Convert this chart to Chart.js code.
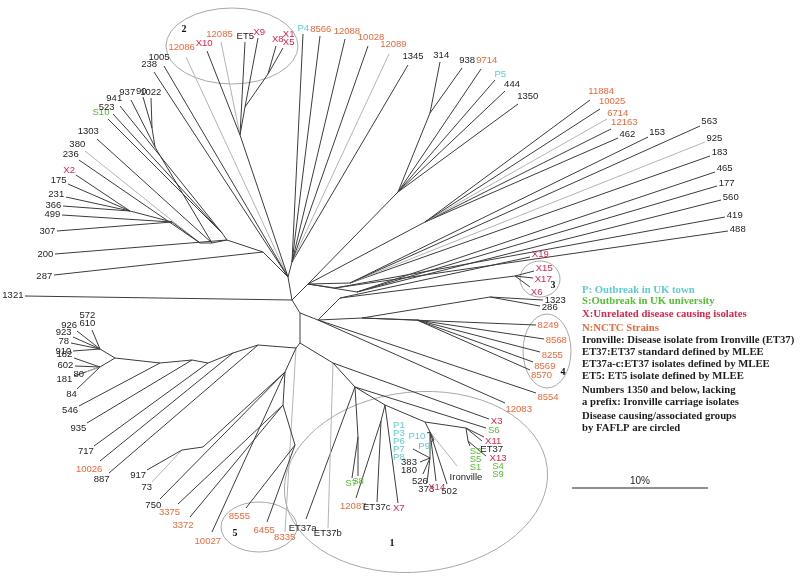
<!DOCTYPE html>
<html>
<head>
<meta charset="utf-8">
<script src="https://cdn.jsdelivr.net/npm/chart.js@4.4.1/dist/chart.umd.min.js"></script>
<style>
  html, body { margin: 0; padding: 0; background: #fff; }
  #wrap { width: 800px; height: 580px; }
</style>
</head>
<body>
<div id="wrap"><canvas id="tree"></canvas></div>
<script>
/* internal nodes of the FAFLP tree (tree units, y grows downwards) */
var nodeName   = ['C1','C2','T','R0','C3','C4','RL','ULa','ULb','ULc','ULd','ULe','ULf','ULh','ULi','ULi2','G2a','G2b','G2c','R1','R1b','R2','R3','R4','R5','Rx','Rx3','Ry','Rz','R4g','K1','K2','S78','K3','K3b','K4','Kp','Kp2','Kq','K5','K6','Lc1','Lc2','Lc3','Lc4','Lc5','Lc6','Lc7','Lc8','LL0','LL1','L9','L9b','LL2','LL3'];
var nodeX      = [292,288,292,308,300,300,318,130,172,200,212,227,263,222,155,152,240,245,268,398,430,425,350,357,335,340,515,490,362,417,333,355,358,385,381,425,430,434,430,466,468,100,100,115,160,192,208,233,258,296,285,182,203,283,295];
var nodeY      = [300,277,262,284,313,343,320,211,222,243,243,240,252,233,147,128,135,107,74,192,113,222,283,292,288,298,276,297,318,320,363,387,437,405,421,422,432,440,458,428,441,349,367,358,363,360,363,353,345,348,372,450,447,405,445];
var nodeParent = [null,'C1','C2','C1','C1','C3','C3','ULb','ULc','ULd','ULe','ULf','C2','ULe','ULd','ULi','C2','G2a','G2b','R0','R1','R0','R0','R0','R0','RL','Rx','Rz','RL','Rz','C4','K1','K2','K2','K3','K3','K4','Kp','Kp','K4','K5','Lc3','Lc3','Lc4','Lc5','Lc6','Lc7','Lc8','LL0','C4','LL0','L9b','LL1','LL1','LL2'];

/* isolates (leaf tips); "a|b" = identical isolates sharing one tip */
var leafLabel  = ['175','231','366','X2','499','307','236','380','1303','200','287','S10','523','941','937','90','1022','238','1005','12086','1321',
                  'X10','12085','ET5','X9','X8','X1|X5',
                  'P4','8566','12088','10028','12089','1345',
                  '314','938','9714','P5','444','1350','11884','10025','6714','12163','462','153','563','925','183','465','177','560','419','488',
                  'X19','X15','X17','X6','1323','286','8249','8568','8255','8569','8570','8554','12083',
                  'X3','S6','X11','ET37','S3|S5|S1','X13|S4|S9','ET37b','ET37a','S7','S8','X7','12087','ET37c',
                  'P1|P3|P6|P7|P8','383|180','526','373','P10','P9','Ironville','502','X14',
                  '572|610','926','923','78','910','182','602','80','181','84','546','935','717','10026','887','917','73','750','3375','3372','10027','8555','6455','8335'];
var leafX      = [68,66,63,76,62,57,79,85,97,55,54,108,113,120,131,143,151,154,164,186,25,
                  207,221,245,258,276,283,
                  303,320,345,368,389,408,
                  440,462,481,495,505,518,590,600,607,611,618,648,700,705,710,715,717,721,725,728,
                  530,534,533,530,543,540,536,544,540,533,530,536,505,
                  489,486,484,482,470,486,328,306,352,358,398,356,377,
                  413,420,423,427,427,431,457,447,436,
                  92,77,73,71,73,74,75,86,74,77,79,87,94,100,109,147,152,160,178,190,212,246,267,285];
var leafY      = [184,197,206,175,215,231,160,151,139,254,275,119,114,106,100,97,98,72,66,57,296,
                  51,42,42,38,46,48,
                  34,36,39,46,54,65,
                  62,68,69,80,91,104,100,109,119,129,138,137,126,142,156,172,186,200,217,231,
                  257,271,278,287,300,306,325,339,352,362,370,393,403,
                  419,428,437,441,446,456,528,519,478,476,503,498,502,
                  449,462,474,483,433,442,466,484,481,
                  330,331,337,343,351,358,366,372,376,389,406,423,446,461,473,470,482,499,504,517,532,508,522,532];
var leafParent = ['ULa','ULa','ULa','ULa','ULb','ULb','ULc','ULc','ULd','ULe','ULf','ULh','ULh','ULh','ULi','ULi2','ULi2','C2','C2','C2','C1',
                  'G2a','G2a','G2a','G2b','G2c','G2c',
                  'T','T','T','T','T','T',
                  'R1b','R1b','R1','R1','R1','R1','R2','R2','R2','R2','R2','R3','R3','R3','R3','R4','R4','R4','R5','R5',
                  'Rx','Rx3','Rx3','Rx3','Ry','Ry','Rz','R4g','R4g','R4g','R4g','RL','RL',
                  'K1','K2','K5','K5','K6','K6','K1','K2','S78','S78','K3','K3b','K3b',
                  'Kq','Kq','Kq','Kq','Kp','Kp2','Kp','Kp','Kp',
                  'Lc1','Lc1','Lc1','Lc1','Lc1','Lc2','Lc2','Lc2','Lc2','Lc2','Lc4','Lc5','Lc6','Lc7','Lc8','L9','L9','LL1','LL2','LL2','LL1','LL3','LL3','LL0'];

/* NCTC strains (orange) and branches printed in light grey */
var nctcStrains   = ['12085','12086','8566','12088','10028','12089','9714','11884','10025','6714','12163','8249','8568','8255','8569','8570','8554','12083','12087','10026','3375','3372','10027','8555','6455','8335'];
var faintBranches = ['12085','12086','12089','6714','925','80','73','8335','ET37b','Ironville','380'];

/* FAFLP groups circled */
var groupName = ['1','2','3','4','5'];
var groupCx   = [416,232,540,547,259];
var groupCy   = [482,46,279,351,527];
var groupRx   = [132,66,20,24,38];
var groupRy   = [90,38,18,37,25];
var groupTilt = [-6,0,0,0,0];
var groupNumX = [392,184,553,563,235];
var groupNumY = [543,29,285,372,533];

var legendLines = ['P: Outbreak in UK town','S:Outbreak in UK university','X:Unrelated disease causing isolates','N:NCTC Strains',
                   'Ironville: Disease isolate from Ironville (ET37)','ET37:ET37 standard defined by MLEE','ET37a-c:ET37 isolates defined by MLEE',
                   'ET5: ET5 isolate defined by MLEE','Numbers 1350 and below, lacking','a prefix: Ironville carriage isolates',
                   'Disease causing/associated groups','by FAFLP are circled'];
var legendKind  = ['P','S','X','N','','','','','','','',''];

var scaleBarPercent = 10;
var unitsPerPercent = 13.6;

var COL = { P: '#5ccdcd', S: '#55bf33', X: '#e2234b', N: '#f0683a', '': '#1d1d1d' };

function nodePos(name){
	var i = nodeName.indexOf(name);
	return { x: nodeX[i], y: nodeY[i] };
}

function kindOf(lab){
	if(nctcStrains.indexOf(lab) >= 0) return 'N';
	var c = lab.charAt(0);
	if(c == 'P' || c == 'S' || c == 'X') return c;
	return '';
}

/* one dataset per branch */
var datasets = [];
for(var i = 0; i < nodeName.length; i++){
	if(nodeParent[i] == null) continue;
	var p = nodePos(nodeParent[i]);
	datasets.push({ data: [{x: nodeX[i], y: nodeY[i]}, p], borderColor: '#3c3c3c' });
}
for(var j = 0; j < leafLabel.length; j++){
	var pp = nodePos(leafParent[j]);
	var faint = faintBranches.indexOf(leafLabel[j]) >= 0;
	datasets.push({ data: [{x: leafX[j], y: leafY[j]}, pp], borderColor: faint ? '#b4b4b4' : '#3c3c3c' });
}
datasets.forEach(function(d){
	d.showLine = true; d.borderWidth = 1; d.pointRadius = 0; d.fill = false;
});

var treeDecor = {
	id: 'treeDecor',
	beforeDatasetsDraw: function(chart){
		var ctx = chart.ctx, xs = chart.scales.x, ys = chart.scales.y;
		ctx.save();
		ctx.strokeStyle = '#a8a8a8';
		ctx.lineWidth = 1;
		for(var g = 0; g < groupName.length; g++){
			var cx = xs.getPixelForValue(groupCx[g]), cy = ys.getPixelForValue(groupCy[g]);
			var rx = Math.abs(xs.getPixelForValue(groupCx[g] + groupRx[g]) - cx);
			var ry = Math.abs(ys.getPixelForValue(groupCy[g] + groupRy[g]) - cy);
			ctx.beginPath();
			ctx.ellipse(cx, cy, rx, ry, groupTilt[g] * Math.PI / 180, 0, 2 * Math.PI);
			ctx.stroke();
		}
		ctx.restore();
	},
	afterDatasetsDraw: function(chart){
		var ctx = chart.ctx, xs = chart.scales.x, ys = chart.scales.y;
		ctx.save();
		ctx.font = '9.5px "Liberation Sans", Arial, sans-serif';
		ctx.textAlign = 'center';
		ctx.textBaseline = 'middle';
		var lh = 8;
		for(var k = 0; k < leafLabel.length; k++){
			var parts = leafLabel[k].split('|');
			var p = nodePos(leafParent[k]);
			var tx = xs.getPixelForValue(leafX[k]), ty = ys.getPixelForValue(leafY[k]);
			var dx = tx - xs.getPixelForValue(p.x), dy = ty - ys.getPixelForValue(p.y);
			var len = Math.sqrt(dx*dx + dy*dy) || 1;
			var ux = dx/len, uy = dy/len;
			var w = 0;
			parts.forEach(function(s){ w = Math.max(w, ctx.measureText(s).width); });
			var h = parts.length == 1 ? 7 : parts.length * lh;
			var d = Math.abs(ux)*w/2 + Math.abs(uy)*h/2 + 1.5;
			var cx = tx + ux*d, cy = ty + uy*d;
			for(var s = 0; s < parts.length; s++){
				ctx.fillStyle = COL[kindOf(parts[s])];
				ctx.fillText(parts[s], cx, cy - h/2 + (parts.length == 1 ? 3.5 : lh*(s+0.5)));
			}
		}
		/* group numbers */
		ctx.font = 'bold 10px "Liberation Serif", "Times New Roman", serif';
		ctx.fillStyle = '#111';
		for(var g = 0; g < groupName.length; g++){
			ctx.fillText(groupName[g], xs.getPixelForValue(groupNumX[g]), ys.getPixelForValue(groupNumY[g]));
		}
		/* legend */
		ctx.font = 'bold 10.7px "Liberation Serif", "Times New Roman", serif';
		ctx.textAlign = 'left';
		var ly = [290,301,314,328,340,352,364,376,390,402,416,428];
		for(var m = 0; m < legendLines.length; m++){
			ctx.fillStyle = COL[legendKind[m]];
			ctx.fillText(legendLines[m], 582, ly[m]);
		}
		/* scale bar */
		var x0 = xs.getPixelForValue(572), x1 = xs.getPixelForValue(572 + scaleBarPercent*unitsPerPercent);
		var yb = ys.getPixelForValue(488);
		ctx.strokeStyle = '#222';
		ctx.lineWidth = 1.2;
		ctx.beginPath(); ctx.moveTo(x0, yb); ctx.lineTo(x1, yb); ctx.stroke();
		ctx.font = '10px "Liberation Sans", Arial, sans-serif';
		ctx.textAlign = 'center';
		ctx.fillStyle = '#222';
		ctx.fillText(scaleBarPercent + '%', (x0 + x1)/2, yb - 7);
		ctx.restore();
	}
};

new Chart(document.getElementById('tree'), {
	type: 'scatter',
	data: { datasets: datasets },
	options: {
		responsive: true,
		maintainAspectRatio: false,
		animation: false,
		layout: { padding: 0 },
		plugins: { legend: { display: false }, tooltip: { enabled: false } },
		scales: {
			x: { type: 'linear', min: 0, max: 800, display: false },
			y: { type: 'linear', min: 0, max: 580, reverse: true, display: false }
		}
	},
	plugins: [treeDecor]
});
</script>
</body>
</html>
